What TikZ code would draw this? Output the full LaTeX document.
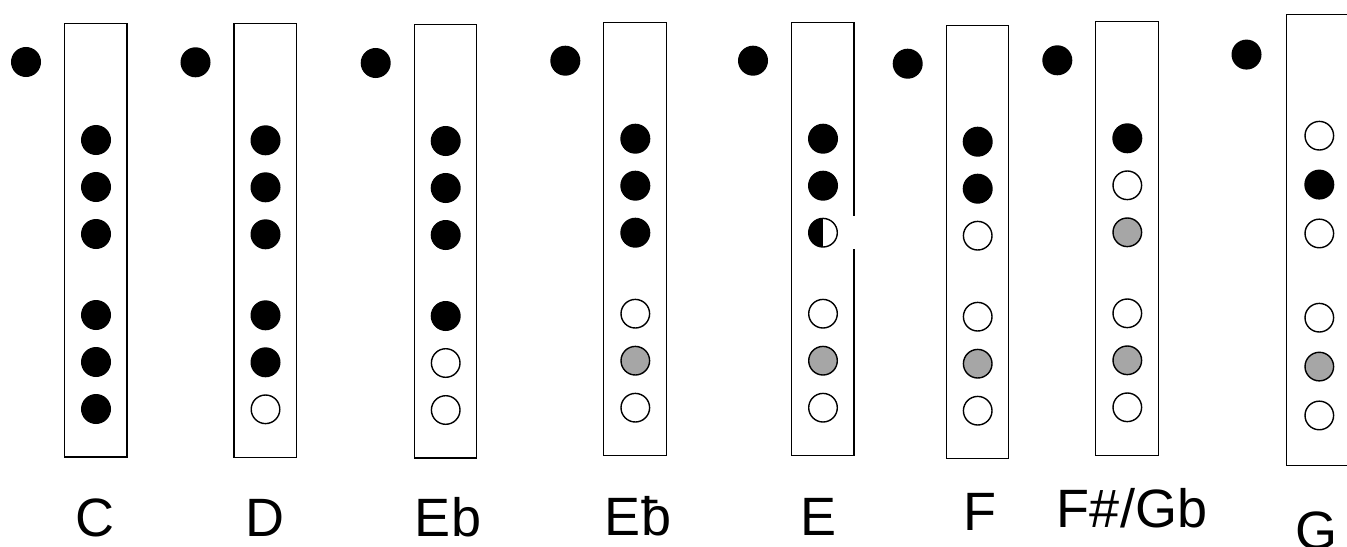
\documentclass[tikz,border=0pt]{standalone}
\usepackage{fontspec}
\setmainfont{Liberation Sans}
\tikzset{
  tube/.style={draw, line width=0.65pt},
  hole/.style={circle, draw, line width=0.7pt, inner sep=0pt, minimum size=14.3pt},
  hole-c/.style={hole, fill=black},
  hole-o/.style={hole, fill=white},
  hole-g/.style={hole, fill=black!35},
  hole-h/.style={hole, fill=white, path picture={\fill[black] (path picture bounding box.south west) rectangle (path picture bounding box.north);}},
  notename/.style={anchor=base, inner sep=0pt, font=\fontsize{27}{31}\selectfont}
}

\begin{document}
\begin{tikzpicture}[x=0.5pt, y=-0.5pt]
  \useasboundingbox (0,0) rectangle (1347,546);
  % one tube per fingering: thumb hole, then six finger holes
  \foreach \n/\hx/\hy/\s/\states in {
      C/96/140/1/{c,c,c,c,c,c},
      D/265.5/140.3/1/{c,c,c,c,c,o},
      Eb/445.7/141/1/{c,c,c,c,o,o},
      Ebx/635.3/138.7/1/{c,c,c,o,g,o},
      E/823/138.7/1/{c,c,h,o,g,o},
      F/977.7/141.7/1/{c,c,o,o,g,o},
      Fs/1127.3/138.3/1/{c,o,g,o,g,o},
      G/1319.3/135.7/1.04/{o,c,o,o,g,o}}{
    \begin{scope}[shift={(\hx,\hy)}, scale=\s]
      \draw[tube] (-31.5,-116.5) rectangle (31,317);
      \node[hole-c] (\n-t) at (-70,-78) {};
      \foreach \st [count=\i] in \states {
        \pgfmathsetmacro\dy{47*(\i-1)+34*(\i>3)}
        \node[hole-\st] (\n-\i) at (0,\dy) {};
      }
    \end{scope}
  }
  % break in the tube wall beside the half hole
  \fill[white] ([shift={(26,-17)}]E-3.center) rectangle ([shift={(34,16)}]E-3.center);

  \node[notename] (lbl-C) at (95,536) {C};
  \node[notename] (lbl-D) at (265,536) {D};
  \node[notename] (lbl-Eb) at (448,536) {Eb};
  \node[notename] (lbl-Ebx) at (638,535) {Eƀ};
  \node[notename] (lbl-E) at (818,535) {E};
  \node[notename] (lbl-F) at (980,530) {F};
  \node[notename] (lbl-Fs) at (1132,527) {F\#/Gb};
  \node[notename] (lbl-G) at (1316,549) {G};
\end{tikzpicture}
\end{document}
